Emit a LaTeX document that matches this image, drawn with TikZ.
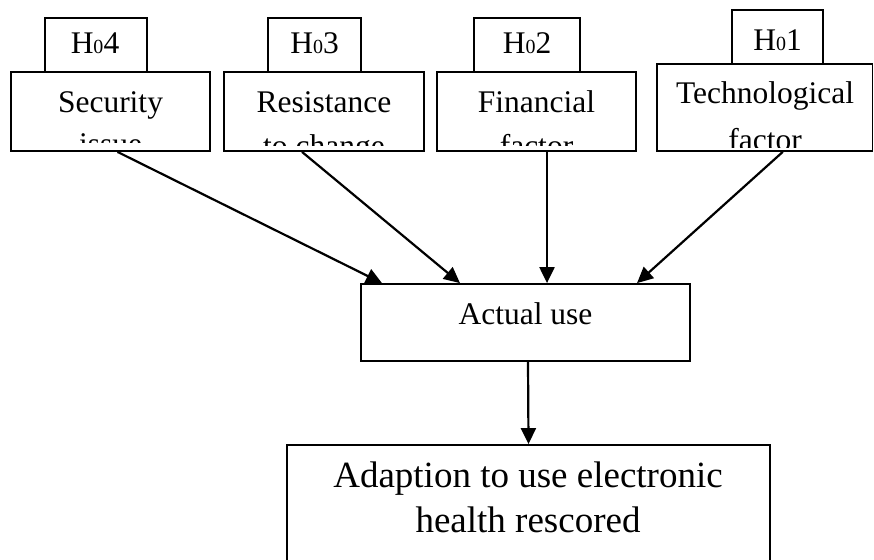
\documentclass[tikz,border=0pt]{standalone}
\usepackage{fontspec}
\setmainfont{Liberation Serif}
\usetikzlibrary{arrows.meta,fit}

\tikzset{
  box/.style={draw, line width=1.8pt, inner sep=0pt, fill=white},
  lbl/.style={anchor=base, inner sep=0pt, font=\fontsize{31.5}{31.5}\selectfont},
  biglbl/.style={anchor=base, inner sep=0pt, font=\fontsize{37}{37}\selectfont},
  link/.style={line width=2.2pt, -{Triangle[length=16pt,width=15pt]}},
}
% hypothesis tag: H, a small zero, then the number
\newcommand\hnum[1]{H{\fontsize{20}{20}\selectfont 0}#1}

\begin{document}
\begin{tikzpicture}[x=1pt,y=-1pt]
\useasboundingbox (0,0) rectangle (874,559);
\clip (0,0) rectangle (874,559);

% factor boxes
\node[box, fit={(11,72) (210,151)}] (sec) {};
\node[box, fit={(224,72) (424,151)}] (res) {};
\node[box, fit={(437,72) (636,151)}] (fin) {};
\node[box, fit={(657,64) (872.5,151)}] (tec) {};

% hypothesis tags
\node[box, fit={(45,18) (147,72)}] (h4) {};
\node[box, fit={(268,18) (361,72)}] (h3) {};
\node[box, fit={(474,18) (580,72)}] (h2) {};
\node[box, fit={(732,10) (823,64)}] (h1) {};
\node[lbl] (h4t) at (95,54) {\hnum{4}};
\node[lbl] (h3t) at (314.5,54) {\hnum{3}};
\node[lbl] (h2t) at (527,54) {\hnum{2}};
\node[lbl] (h1t) at (777.5,51) {\hnum{1}};

% factor texts, cut off by the inner margin of each box
\begin{scope}
  \clip (11,72) rectangle (210,142);
  \node[lbl] (sec1) at (110.5,112) {Security};
  \node[lbl] (sec2) at (110.5,154) {issue};
\end{scope}
\begin{scope}
  \clip (224,72) rectangle (424,145);
  \node[lbl] (res1) at (324,112) {Resistance};
  \node[lbl] (res2) at (324,156) {to change};
\end{scope}
\begin{scope}
  \clip (437,72) rectangle (636,145);
  \node[lbl] (fin1) at (536.5,112) {Financial};
  \node[lbl] (fin2) at (536.5,156) {factor};
\end{scope}
\begin{scope}
  \clip (657,64) rectangle (872,147);
  \node[lbl] (tec1) at (765,103) {Technological};
  \node[lbl] (tec2) at (765,150) {factor};
\end{scope}

% actual use
\node[box, fit={(361,284) (690,361)}] (act) {};
\node[lbl] (actt) at (525.5,324) {Actual use};

% outcome
\node[box, fit={(287,445) (770,600)}] (ado) {};
\node[biglbl] (ado1) at (528,487) {Adaption to use electronic};
\node[biglbl] (ado2) at (528,532) {health rescored};

% connectors
\draw[link] ([xshift=7pt]sec.south) -- ([xshift=-143.5pt]act.north);
\draw[link] ([xshift=-22pt]res.south) -- ([xshift=-65.5pt]act.north);
\draw[link] ([xshift=10.5pt]fin.south) -- ([xshift=21.5pt]act.north);
\draw[link] ([xshift=18pt]tec.south) -- ([xshift=111.5pt]act.north);
\draw[link] ([xshift=2.5pt]act.south) -- (ado.north);
\end{tikzpicture}
\end{document}
